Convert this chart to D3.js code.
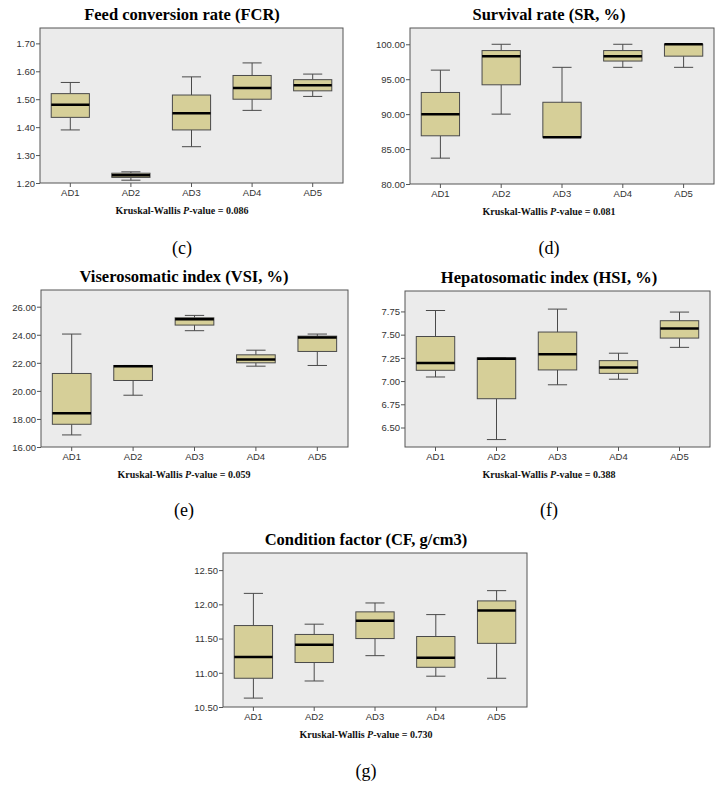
<!DOCTYPE html>
<html>
<head>
<meta charset="utf-8">
<script src="https://cdn.jsdelivr.net/npm/d3@7"></script>
<style>
  body { margin: 0; background: #fff; }
  svg { display: block; }
</style>
</head>
<body>
<svg id="chart" width="722" height="785"></svg>
<script>
// ---------- DATA ----------
const groups = ["AD1", "AD2", "AD3", "AD4", "AD5"];

// each row: [min, Q1, median, Q3, max]
const fcrStats = [
  [1.39, 1.435, 1.48, 1.52, 1.56],
  [1.21, 1.22, 1.228, 1.235, 1.24],
  [1.33, 1.39, 1.45, 1.515, 1.58],
  [1.46, 1.50, 1.54, 1.585, 1.63],
  [1.51, 1.53, 1.55, 1.57, 1.59]
];
const fcrTicks = ["1.20", "1.30", "1.40", "1.50", "1.60", "1.70"];

const srStats = [
  [83.7, 86.9, 90.0, 93.1, 96.3],
  [90.0, 94.2, 98.3, 99.1, 100.0],
  [86.7, 86.7, 86.7, 91.7, 96.7],
  [96.7, 97.6, 98.3, 99.1, 100.0],
  [96.7, 98.3, 100.0, 100.0, 100.0]
];
const srTicks = ["80.00", "85.00", "90.00", "95.00", "100.00"];

const vsiStats = [
  [16.86, 17.62, 18.40, 21.24, 24.05],
  [19.69, 20.74, 21.76, 21.81, 21.81],
  [24.29, 24.69, 25.10, 25.21, 25.38],
  [21.76, 22.00, 22.24, 22.57, 22.90],
  [21.81, 22.81, 23.81, 23.90, 24.05]
];
const vsiTicks = ["16.00", "18.00", "20.00", "22.00", "24.00", "26.00"];

const hsiStats = [
  [7.044, 7.116, 7.195, 7.48, 7.76],
  [6.37, 6.81, 7.24, 7.25, 7.25],
  [6.96, 7.12, 7.288, 7.528, 7.775],
  [7.02, 7.083, 7.145, 7.22, 7.30],
  [7.363, 7.463, 7.567, 7.65, 7.743]
];
const hsiTicks = ["6.50", "6.75", "7.00", "7.25", "7.50", "7.75"];

const cfStats = [
  [10.63, 10.92, 11.23, 11.69, 12.16],
  [10.88, 11.15, 11.41, 11.56, 11.71],
  [11.25, 11.50, 11.76, 11.89, 12.02],
  [10.95, 11.08, 11.22, 11.53, 11.85],
  [10.92, 11.43, 11.91, 12.05, 12.20]
];
const cfTicks = ["10.50", "11.00", "11.50", "12.00", "12.50"];

const titles = [
  "Feed conversion rate (FCR)",
  "Survival rate (SR, %)",
  "Viserosomatic index (VSI, %)",
  "Hepatosomatic index (HSI, %)",
  "Condition factor (CF, g/cm3)"
];
const pValues = ["0.086", "0.081", "0.059", "0.388", "0.730"];
const panelLetters = ["(c)", "(d)", "(e)", "(f)", "(g)"];

// ---------- LAYOUT ----------
const panels = [
  { stats: fcrStats, ticks: fcrTicks, domain: [1.20, 1.755], x0: 40,  x1: 343, y0: 28,  y1: 183, tx: 182, letterY: 254 },
  { stats: srStats,  ticks: srTicks,  domain: [80, 102.33],  x0: 410, x1: 714, y0: 28,  y1: 184, tx: 549, letterY: 254 },
  { stats: vsiStats, ticks: vsiTicks, domain: [16, 27.19],   x0: 41,  x1: 348, y0: 290, y1: 447, tx: 184, letterY: 516 },
  { stats: hsiStats, ticks: hsiTicks, domain: [6.29, 7.97],  x0: 405, x1: 710, y0: 291, y1: 447, tx: 549, letterY: 516 },
  { stats: cfStats,  ticks: cfTicks,  domain: [10.5, 12.75], x0: 223, x1: 527, y0: 553, y1: 707, tx: 366, letterY: 777 }
];

const svg = d3.select("#chart");
const fill = "#d6cf98";
const stroke = "#4a4a4a";

panels.forEach((p, i) => {
  const g = svg.append("g");
  const x = d3.scaleBand().domain(groups).range([p.x0, p.x1]).padding(0);
  const y = d3.scaleLinear().domain(p.domain).range([p.y1, p.y0]);
  const cx = p.tx;

  // background
  g.append("rect")
    .attr("x", p.x0).attr("y", p.y0)
    .attr("width", p.x1 - p.x0).attr("height", p.y1 - p.y0)
    .attr("fill", "#ebebeb");

  // y axis
  const yAxis = d3.axisLeft(y)
    .tickValues(p.ticks.map(Number))
    .tickFormat((d, k) => p.ticks[k])
    .tickSize(4).tickPadding(1);
  const ya = g.append("g").attr("transform", `translate(${p.x0},0)`).call(yAxis);
  ya.select(".domain").remove();
  ya.selectAll("line").attr("stroke", "#555");
  ya.selectAll("text").attr("font-family", "Liberation Sans, Arial, sans-serif")
    .attr("font-size", 9.5).attr("fill", "#333").attr("dy", "0.35em");

  // x axis
  const xAxis = d3.axisBottom(x).tickSize(4).tickPadding(2);
  const xa = g.append("g").attr("transform", `translate(0,${p.y1})`).call(xAxis);
  xa.select(".domain").remove();
  xa.selectAll("line").attr("stroke", "#555");
  xa.selectAll("text").attr("font-family", "Liberation Sans, Arial, sans-serif")
    .attr("font-size", 9.5).attr("fill", "#333");

  // boxes
  const bw = x.bandwidth() * 0.63;
  const capW = bw * 0.5;
  const box = g.selectAll("g.box").data(p.stats).join("g").attr("class", "box")
    .attr("transform", (d, k) => `translate(${x(groups[k]) + x.bandwidth() / 2},0)`);

  box.append("line")
    .attr("x1", 0).attr("x2", 0)
    .attr("y1", d => y(d[4])).attr("y2", d => y(d[3]))
    .attr("stroke", stroke).attr("stroke-width", 1);
  box.append("line")
    .attr("x1", 0).attr("x2", 0)
    .attr("y1", d => y(d[1])).attr("y2", d => y(d[0]))
    .attr("stroke", stroke).attr("stroke-width", 1);
  box.append("line")
    .attr("x1", -capW / 2).attr("x2", capW / 2)
    .attr("y1", d => y(d[4])).attr("y2", d => y(d[4]))
    .attr("stroke", stroke).attr("stroke-width", 1);
  box.append("line")
    .attr("x1", -capW / 2).attr("x2", capW / 2)
    .attr("y1", d => y(d[0])).attr("y2", d => y(d[0]))
    .attr("stroke", stroke).attr("stroke-width", 1);
  box.append("rect")
    .attr("x", -bw / 2).attr("width", bw)
    .attr("y", d => y(d[3]))
    .attr("height", d => Math.max(0.5, y(d[1]) - y(d[3])))
    .attr("fill", fill).attr("stroke", stroke).attr("stroke-width", 1);
  box.append("line")
    .attr("x1", -bw / 2).attr("x2", bw / 2)
    .attr("y1", d => y(d[2])).attr("y2", d => y(d[2]))
    .attr("stroke", "#000").attr("stroke-width", 2.5);

  // frame
  g.append("rect")
    .attr("x", p.x0).attr("y", p.y0)
    .attr("width", p.x1 - p.x0).attr("height", p.y1 - p.y0)
    .attr("fill", "none").attr("stroke", "#555").attr("stroke-width", 1);

  // title
  g.append("text")
    .attr("x", cx).attr("y", p.y0 - 8)
    .attr("text-anchor", "middle")
    .attr("font-family", "Liberation Serif, Times New Roman, serif")
    .attr("font-weight", "bold").attr("font-size", 16.5).attr("fill", "#000")
    .text(titles[i]);

  // Kruskal-Wallis
  const kt = g.append("text")
    .attr("x", cx).attr("y", p.y1 + 31)
    .attr("text-anchor", "middle")
    .attr("font-family", "Liberation Serif, Times New Roman, serif")
    .attr("font-weight", "bold").attr("font-size", 10).attr("fill", "#111");
  kt.append("tspan").text("Kruskal-Wallis ");
  kt.append("tspan").attr("font-style", "italic").text("P");
  kt.append("tspan").text("-value = " + pValues[i]);

  // panel letter
  g.append("text")
    .attr("x", cx).attr("y", p.letterY)
    .attr("text-anchor", "middle")
    .attr("font-family", "Liberation Serif, Times New Roman, serif")
    .attr("font-size", 18).attr("fill", "#000")
    .text(panelLetters[i]);
});
</script>
</body>
</html>
